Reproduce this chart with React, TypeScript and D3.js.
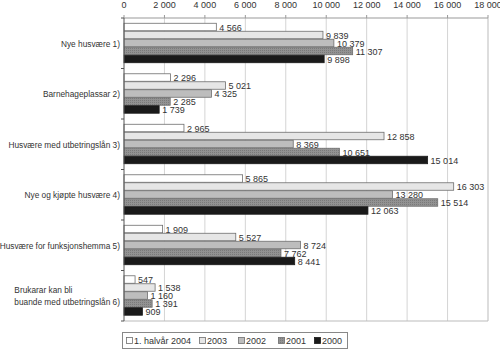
import { useEffect, useRef } from 'react';
import * as d3 from 'd3';

const categories = [
  ['Nye husvære 1)'],
  ['Barnehageplassar 2)'],
  ['Husvære med utbetringslån 3)'],
  ['Nye og kjøpte husvære 4)'],
  ['Husvære for funksjonshemma 5)'],
  ['Brukarar kan bli', 'buande med utbetringslån 6)'],
];

const seriesNames = ['1. halvår 2004', '2003', '2002', '2001', '2000'];

const h2004 = [4566, 2296, 2965, 5865, 1909, 547];
const y2003 = [9839, 5021, 12858, 16303, 5527, 1538];
const y2002 = [10379, 4325, 8369, 13280, 8724, 1160];
const y2001 = [11307, 2285, 10651, 15514, 7762, 1391];
const y2000 = [9898, 1739, 15014, 12063, 8441, 909];

const xTicks = [0, 2000, 4000, 6000, 8000, 10000, 12000, 14000, 16000, 18000];

const fills = ['#ffffff', '#e6e6e6', '#bdbdbd', 'url(#dots)', '#1a1a1a'];

export default function App() {
  const svgRef = useRef(null);

  useEffect(() => {
    if (!svgRef.current) return;
    const svg = d3.select(svgRef.current);
    svg.selectAll('*').remove();

    const font = 'Arial, "Liberation Sans", sans-serif';
    const fs = '8.3px';
    const fmt = (v: number) => d3.format(',')(v).replace(/,/g, ' ');
    const values = [h2004, y2003, y2002, y2001, y2000];

    // dotted texture for 2001
    const pat = svg.append('defs').append('pattern')
      .attr('id', 'dots')
      .attr('width', 2)
      .attr('height', 2)
      .attr('patternUnits', 'userSpaceOnUse');
    pat.append('rect').attr('width', 2).attr('height', 2).attr('fill', '#929292');
    pat.append('rect').attr('width', 1).attr('height', 1).attr('fill', '#7a7a7a');

    const x = d3.scaleLinear().domain([0, 18000]).range([124, 488]);
    const y = d3.scaleBand().domain(categories.map((_, i) => String(i))).range([18, 321]);
    const yInner = d3.scaleBand()
      .domain(seriesNames)
      .range([0, y.bandwidth()])
      .paddingInner(0)
      .paddingOuter(0.66);

    // gridlines
    svg.append('g').selectAll('line')
      .data(xTicks.slice(1, -1))
      .enter().append('line')
      .attr('x1', d => x(d)).attr('x2', d => x(d))
      .attr('y1', 18).attr('y2', 321)
      .attr('stroke', '#d4d4d4');

    // plot frame right / bottom
    svg.append('line').attr('x1', x(18000)).attr('x2', x(18000)).attr('y1', 18).attr('y2', 321).attr('stroke', '#bbbbbb');
    svg.append('line').attr('x1', x(0)).attr('x2', x(18000)).attr('y1', 321).attr('y2', 321).attr('stroke', '#bbbbbb');

    // top axis
    const top = svg.append('g');
    top.append('line').attr('x1', x(0)).attr('x2', x(18000)).attr('y1', 18).attr('y2', 18).attr('stroke', '#999999');
    top.selectAll('.tk').data(xTicks).enter().append('line')
      .attr('x1', d => x(d)).attr('x2', d => x(d))
      .attr('y1', 15).attr('y2', 18)
      .attr('stroke', '#999999');
    top.selectAll('text').data(xTicks).enter().append('text')
      .attr('x', d => x(d))
      .attr('y', 8)
      .attr('text-anchor', 'middle')
      .style('font-family', font)
      .style('font-size', '9px')
      .style('fill', '#333')
      .text(d => fmt(d));

    // bars
    values.forEach((vals, s) => {
      const name = seriesNames[s];
      svg.append('g').selectAll('rect')
        .data(vals)
        .enter().append('rect')
        .attr('x', x(0))
        .attr('y', (_, i) => y(String(i)) + yInner(name))
        .attr('width', d => x(d) - x(0))
        .attr('height', yInner.bandwidth() - 0.5)
        .attr('fill', fills[s])
        .attr('stroke', s === 4 ? '#1a1a1a' : '#6e6e6e')
        .attr('stroke-width', 0.8);

      svg.append('g').selectAll('text')
        .data(vals)
        .enter().append('text')
        .attr('x', d => x(d) + 3)
        .attr('y', (_, i) => y(String(i)) + yInner(name) + yInner.bandwidth() / 2 + 3.5)
        .style('font-family', font)
        .style('font-size', '9px')
        .style('fill', '#333')
        .text(d => fmt(d));
    });

    // left axis
    svg.append('line').attr('x1', x(0)).attr('x2', x(0)).attr('y1', 18).attr('y2', 321).attr('stroke', '#555');
    svg.append('g').selectAll('line')
      .data(d3.range(categories.length + 1))
      .enter().append('line')
      .attr('x1', x(0) - 3).attr('x2', x(0))
      .attr('y1', d => 18 + d * y.step()).attr('y2', d => 18 + d * y.step())
      .attr('stroke', '#555');

    // category labels
    categories.forEach((lines, i) => {
      const cy = y(String(i)) + y.bandwidth() / 2;
      const g = svg.append('g');
      const texts = lines.map((line, j) => g.append('text')
        .attr('x', 120)
        .attr('y', cy + (j - (lines.length - 1) / 2) * 12 + 3.5)
        .attr('text-anchor', 'end')
        .style('font-family', font)
        .style('font-size', fs)
        .style('fill', '#333')
        .text(line));
      if (lines.length > 1) {
        const widths = texts.map(t => (t.node() as SVGTextElement).getComputedTextLength());
        const left = 120 - Math.max(...widths);
        texts.forEach(t => t.attr('x', left).attr('text-anchor', 'start'));
      }
    });

    // legend
    const legend = svg.append('g');
    legend.append('rect')
      .attr('x', 122.5).attr('y', 332.5)
      .attr('width', 225).attr('height', 16)
      .attr('fill', '#fff')
      .attr('stroke', '#888');
    const legendX = [126, 199, 238, 278, 314];
    seriesNames.forEach((name, s) => {
      legend.append('rect')
        .attr('x', legendX[s] + 0.5).attr('y', 337.5)
        .attr('width', 6).attr('height', 6)
        .attr('fill', fills[s])
        .attr('stroke', s === 4 ? '#1a1a1a' : '#6e6e6e')
        .attr('stroke-width', 0.8);
      legend.append('text')
        .attr('x', legendX[s] + 8)
        .attr('y', 344)
        .style('font-family', font)
        .style('font-size', '9px')
        .style('fill', '#333')
        .text(name);
    });
  }, []);

  return (
    <svg
      ref={svgRef}
      width={500}
      height={352}
      style={{ position: 'absolute', left: 0, top: 0, background: '#fff' }}
    />
  );
}
